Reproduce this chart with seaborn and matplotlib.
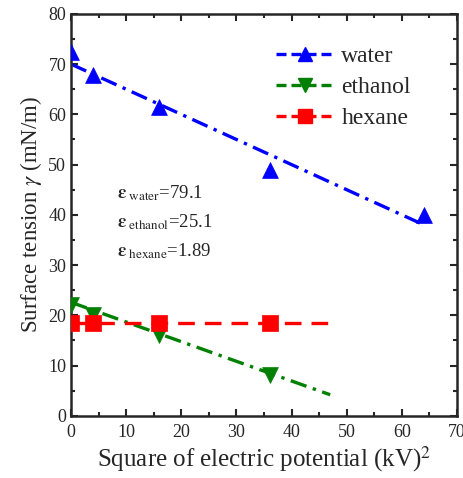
import numpy as np
import pandas as pd
import matplotlib
matplotlib.use('Agg')
import matplotlib.pyplot as plt
from matplotlib.lines import Line2D
import seaborn as sns

# --- data ---
water_x = [0, 4, 16, 36, 64]
water_y = [72.5, 67.8, 61.5, 49.0, 40.0]
ethanol_x = [0, 4, 16, 36]
ethanol_y = [22.0, 20.0, 16.0, 8.2]
hexane_x = [0, 4, 16, 36]
hexane_y = [18.4, 18.4, 18.4, 18.4]

# fitted trend lines (end points)
water_fit_x = [0, 64]
water_fit_y = [70.0, 38.0]
ethanol_fit_x = [0, 47]
ethanol_fit_y = [22.6, 4.2]
hexane_fit_x = [0, 48]
hexane_fit_y = [18.4, 18.4]

eps_labels = ['water', 'ethanol', 'hexane']
eps_values = ['79.1', '25.1', '1.89']

sns.set_style('ticks')
plt.rcParams['font.family'] = ['Liberation Serif', 'DejaVu Serif']
plt.rcParams['mathtext.fontset'] = 'stix'

fig = plt.figure(figsize=(4.64, 4.78), dpi=100)
ax = fig.add_axes([0.153, 0.130, 0.832, 0.841])

series = [
    ('water', water_x, water_y, water_fit_x, water_fit_y, '#0000ff', '^', (0, (5, 2, 1, 2))),
    ('ethanol', ethanol_x, ethanol_y, ethanol_fit_x, ethanol_fit_y, '#008000', 'v', (0, (5, 2, 1, 2))),
    ('hexane', hexane_x, hexane_y, hexane_fit_x, hexane_fit_y, '#ff0000', 's', (0, (5, 3))),
]

handles = []
for name, xs, ys, fx, fy, color, marker, ls in series:
    fit_df = pd.DataFrame({'x': fx, 'y': fy})
    sns.lineplot(data=fit_df, x='x', y='y', ax=ax, color=color, lw=2.4,
                 linestyle=ls, legend=False)
    pts = pd.DataFrame({'x': xs, 'y': ys})
    sns.scatterplot(data=pts, x='x', y='y', ax=ax, color=color, marker=marker,
                    s=130, edgecolor=color, linewidth=0.5, legend=False, zorder=3)
    handles.append(Line2D([0], [0], color=color, lw=2.4, linestyle=(0, (3, 1.5)),
                          marker=marker, markersize=10, label=name))

ax.set_xlim(0, 70)
ax.set_ylim(0, 80)
ax.set_xticks(np.arange(0, 71, 10))
ax.set_yticks(np.arange(0, 81, 10))
ax.set_xticks(np.arange(5, 70, 10), minor=True)
ax.set_yticks(np.arange(5, 80, 10), minor=True)
ax.tick_params(which='both', direction='in', top=True, right=True, width=1.5)
ax.tick_params(which='major', length=5, labelsize=13)
ax.tick_params(axis='x', which='major', pad=6)
ax.tick_params(which='minor', length=3)
for sp in ax.spines.values():
    sp.set_linewidth(1.8)

ax.set_xlabel(r'Square of electric potential (kV)$^2$', fontsize=18, labelpad=2)
ax.set_ylabel(r'Surface tension $\gamma$ (mN/m)', fontsize=16.5, labelpad=3)

leg = ax.legend(handles=handles, loc='upper right', frameon=False, fontsize=17,
                handlelength=2.45, handletextpad=0.3, borderaxespad=0,
                bbox_to_anchor=(0.905, 0.945), labelspacing=0.4)

for i, (lab, val) in enumerate(zip(eps_labels, eps_values)):
    ax.text(8.4, 44.3 - 5.8 * i, r'$\mathbf{\epsilon}_{\ \mathrm{%s}}$=%s' % (lab, val),
            fontsize=13.5, va='center')

fig.savefig('out.png', dpi=100)
